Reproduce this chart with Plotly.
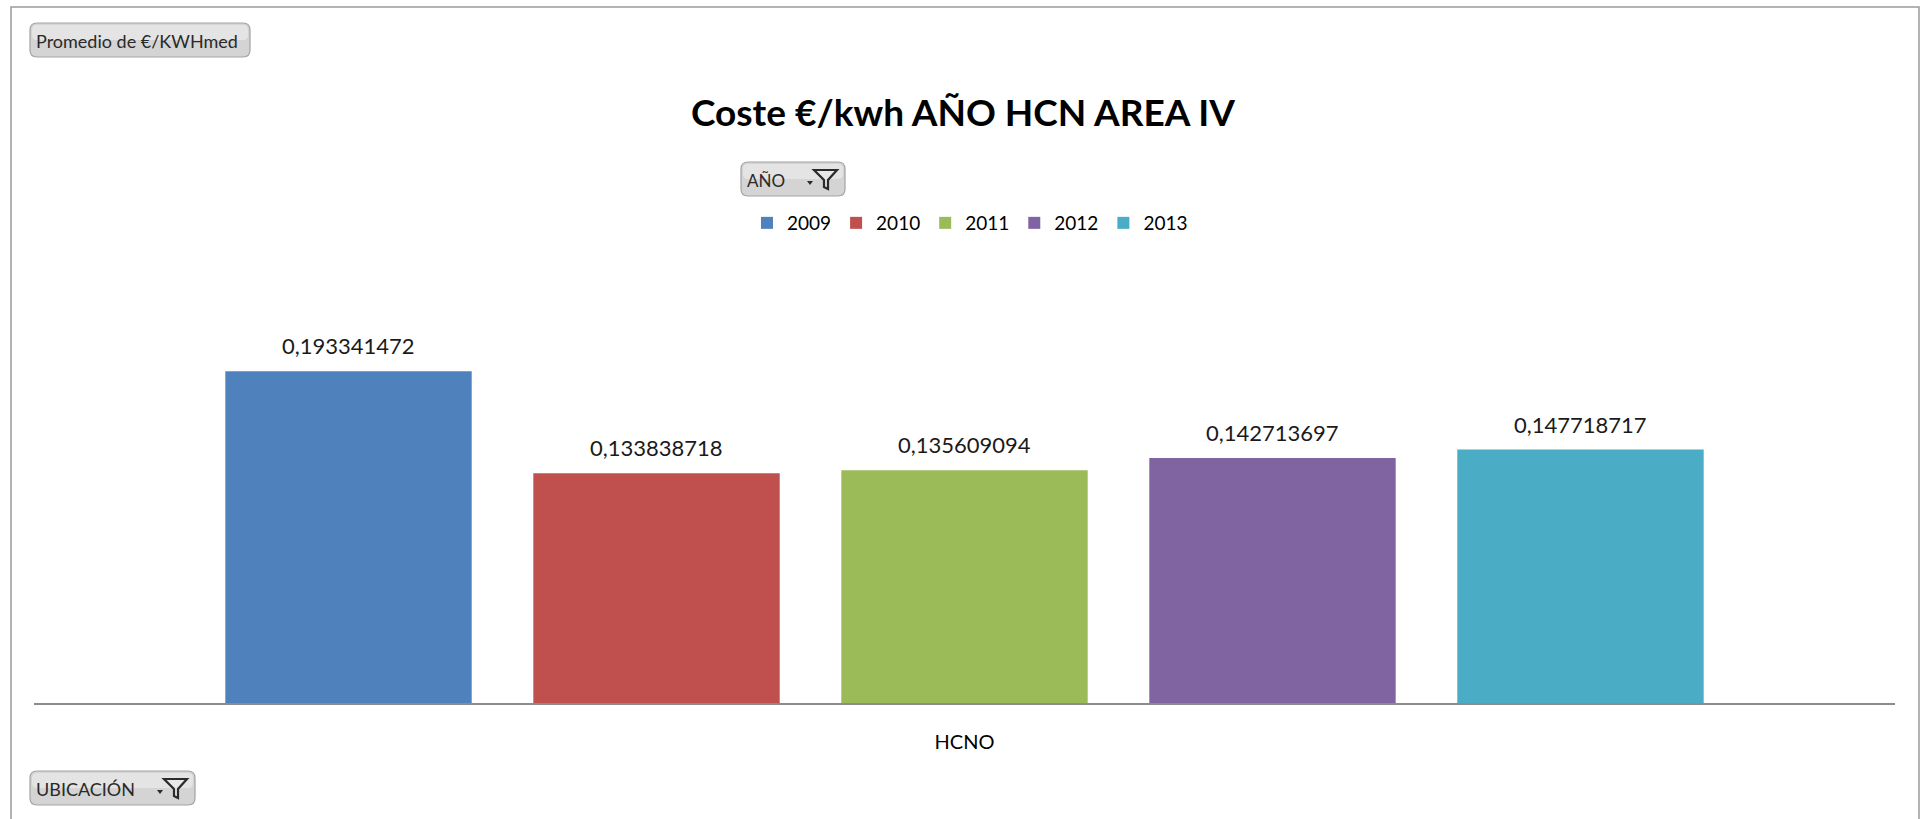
import plotly.graph_objects as go

# ---- data ----
categories = ["HCNO"]
years = ["2009", "2010", "2011", "2012", "2013"]
values = [0.193341472, 0.133838718, 0.135609094, 0.142713697, 0.147718717]
colors = ["#4F81BD", "#C0504D", "#9BBB59", "#8064A2", "#4BACC6"]

title_text = "Coste €/kwh AÑO HCN AREA IV"
field_value = "Promedio de €/KWHmed"
field_legend = "AÑO"
field_axis = "UBICACIÓN"

W, H = 1921, 819
L, R, T, B = 34, 26, 274, 116
PW = W - L - R
PH = H - T - B
FONT = "Lato"
BARGAP, GROUPGAP = 0.1725, 0.2


def px(x):
    return (x - L) / PW


def py(y):
    return (H - B - y) / PH


fig = go.Figure()
for yr, v, c in zip(years, values, colors):
    fig.add_trace(go.Bar(
        x=categories, y=[v], name=yr, marker=dict(color=c, line=dict(width=0)),
        cliponaxis=False,
    ))

shapes = []
annotations = []

# value labels above each bar, placed from the data values
n = len(years)
slot = (1 - BARGAP) / n
for i, v in enumerate(values):
    xpos = -(1 - BARGAP) / 2 + slot * (i + 0.5)
    annotations.append(dict(xref="x", yref="y", x=xpos, y=v, yanchor="bottom", yshift=10,
                            showarrow=False, text=f"{v:.9f}".replace(".", ","),
                            font=dict(family=FONT, size=22, color="#1a1a1a")))


def rrect(x0, y0, x1, y1, r):
    pts = [
        f"M{px(x0 + r)},{py(y0)}",
        f"L{px(x1 - r)},{py(y0)}",
        f"Q{px(x1)},{py(y0)} {px(x1)},{py(y0 + r)}",
        f"L{px(x1)},{py(y1 - r)}",
        f"Q{px(x1)},{py(y1)} {px(x1 - r)},{py(y1)}",
        f"L{px(x0 + r)},{py(y1)}",
        f"Q{px(x0)},{py(y1)} {px(x0)},{py(y1 - r)}",
        f"L{px(x0)},{py(y0 + r)}",
        f"Q{px(x0)},{py(y0)} {px(x0 + r)},{py(y0)}",
        "Z",
    ]
    return " ".join(pts)


def poly(points):
    return "M" + " L".join(f"{px(a)},{py(b)}" for a, b in points) + " Z"


def button(x0, y0, x1, y1, text, funnel, size):
    shapes.append(dict(type="path", xref="paper", yref="paper",
                       path=rrect(x0, y0, x1, y1, 7),
                       fillcolor="#d4d4d4", line=dict(color="#a3a3a3", width=1.2)))
    shapes.append(dict(type="path", xref="paper", yref="paper",
                       path=rrect(x0 + 2, y0 + 2, x1 - 2, (y0 + y1) / 2, 5),
                       fillcolor="#e4e4e4", line=dict(width=0)))
    annotations.append(dict(xref="paper", yref="paper", x=px(x0 + 4), y=py((y0 + y1) / 2 + 1),
                            xanchor="left", yanchor="middle", showarrow=False, text=text,
                            font=dict(family=FONT, size=size, color="#2a2a2a")))
    if funnel:
        xr, yc = x1, (y0 + y1) / 2
        shapes.append(dict(type="path", xref="paper", yref="paper",
                           path=poly([(xr - 31, yc - 9), (xr - 8, yc - 9), (xr - 17, yc + 1),
                                      (xr - 17, yc + 10), (xr - 21, yc + 8), (xr - 21, yc + 1)]),
                           fillcolor="#e8e8e8", line=dict(color="#2b2b2b", width=2.2)))
        shapes.append(dict(type="path", xref="paper", yref="paper",
                           path=poly([(xr - 38, yc + 2), (xr - 32, yc + 2), (xr - 35, yc + 6)]),
                           fillcolor="#2b2b2b", line=dict(width=0)))


button(30, 23, 250, 57, field_value, False, 18)
button(741, 162, 845, 196, field_legend, True, 17)
button(30, 771, 195, 805, field_axis, True, 18)

# outer frame
shapes.append(dict(type="path", xref="paper", yref="paper",
                   path=f"M{px(11)},{py(819)} L{px(11)},{py(7)} L{px(1919)},{py(7)} L{px(1919)},{py(819)}",
                   line=dict(color="#9a9a9a", width=1.5)))

annotations.append(dict(xref="paper", yref="paper", x=px(963), y=py(111), xanchor="center",
                        yanchor="middle", showarrow=False, text="<b>" + title_text + "</b>",
                        font=dict(family=FONT, size=37, color="#000000")))

fig.update_layout(
    width=W, height=H,
    margin=dict(l=L, r=R, t=T, b=B, pad=0),
    paper_bgcolor="white", plot_bgcolor="white",
    barmode="group", bargap=BARGAP, bargroupgap=GROUPGAP,
    separators=",.",
    showlegend=True,
    legend=dict(orientation="h", x=px(747), y=py(223), xanchor="left", yanchor="middle",
                font=dict(family=FONT, size=19, color="#000000"), traceorder="normal",
                bgcolor="rgba(0,0,0,0)", itemwidth=30),
    xaxis=dict(type="category", range=[-0.5, 0.5], showline=True, linecolor="#8c8c8c",
               linewidth=2, ticks="", showgrid=False, zeroline=False,
               tickfont=dict(family=FONT, size=20, color="#000000"), ticklabelstandoff=20),
    yaxis=dict(visible=False, range=[0, 0.25], showgrid=False, zeroline=False),
    shapes=shapes, annotations=annotations,
)

fig.write_html("out.html", config={"displayModeBar": False},
               post_script="document.body.style.margin='0';")
